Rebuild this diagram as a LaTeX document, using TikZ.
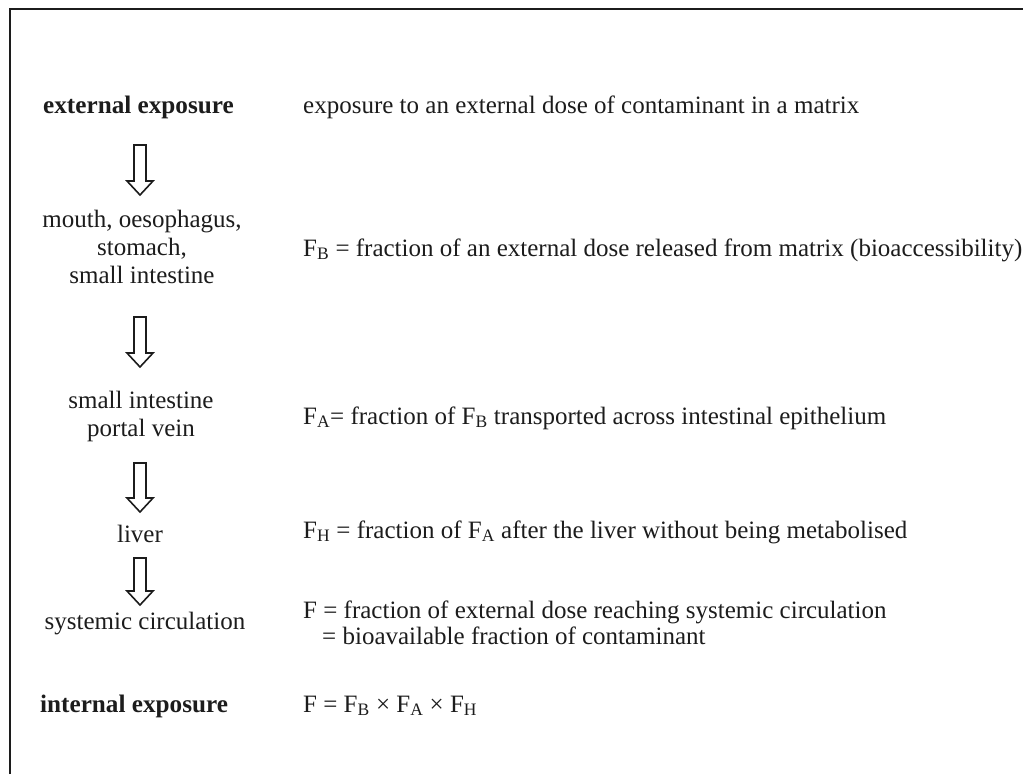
\documentclass[tikz,border=0pt]{standalone}
\usepackage{fontspec}
\setmainfont{Liberation Serif}
\usetikzlibrary{calc, positioning}
\definecolor{inkDark}{HTML}{1C1C1C}

\begin{document}
\begin{tikzpicture}[x=1pt, y=-1pt,
    stage/.style={inner sep=0pt, align=center, text=inkDark,
                  font=\fontsize{25}{28}\selectfont},
    keyterm/.style={inner sep=0pt, anchor=base west, text=inkDark,
                    font=\fontsize{25.2}{28}\selectfont\bfseries},
    note/.style={inner sep=0pt, anchor=base west, text=inkDark,
                 font=\fontsize{25}{28}\selectfont},
    fatarrow/.style={draw=inkDark, line width=1.6pt, line join=miter,
      to path={let \p1=(\tikztostart), \p2=(\tikztotarget) in
        (\x1-6pt,\y1) -- (\x1+6pt,\y1) -- (\x1+6pt,\y2+14pt) -- (\x1+13pt,\y2+14pt)
        -- (\x1,\y2) -- (\x1-13pt,\y2+14pt) -- (\x1-6pt,\y2+14pt) -- cycle}},
  ]
    \useasboundingbox (0,0) rectangle (1023,774);
    \draw[inkDark, line width=2.4pt] (10,774) -- (10,9) -- (1023,9);

    % left column: where the contaminant goes
    \node[keyterm] (extexp) at (43,113) {external exposure};
    \node[stage] (gut) at (142,247) {mouth, oesophagus,\\stomach,\\small intestine};
    \node[stage] (portal) at (141,416) {small intestine\\portal vein};
    \node[stage, anchor=base] (liver) at (140,542) {liver};
    \node[stage, anchor=base] (blood) at (145,629) {systemic circulation};
    \node[keyterm] (intexp) at (40,712) {internal exposure};

    % right column: fractions
    \node[note] (dose) at (303,113)
      {exposure to an external dose of contaminant in a matrix};
    \node[note] (fb) at (303,256)
      {F\textsubscript{B} = fraction of an external dose released from matrix (bioaccessibility)};
    \node[note] (fa) at (303,424)
      {F\textsubscript{A}= fraction of F\textsubscript{B} transported across intestinal epithelium};
    \node[note] (fh) at (303,538)
      {F\textsubscript{H} = fraction of F\textsubscript{A} after the liver without being metabolised};
    \node[note] (fsys) at (303,618)
      {F = fraction of external dose reaching systemic circulation};
    \node[note] (fbio) at (322,644)
      {= bioavailable fraction of contaminant};
    \node[note] (fprod) at (303,712)
      {F = F\textsubscript{B} × F\textsubscript{A} × F\textsubscript{H}};

    % hollow arrows between the stages
    \coordinate (a1s) at (140,145); \coordinate (a1e) at (140,195);
    \coordinate (a2s) at (140,317); \coordinate (a2e) at (140,367);
    \coordinate (a3s) at (140,463); \coordinate (a3e) at (140,512);
    \coordinate (a4s) at (140,558); \coordinate (a4e) at (140,605);
    \draw[fatarrow] (a1s) to (a1e);
    \draw[fatarrow] (a2s) to (a2e);
    \draw[fatarrow] (a3s) to (a3e);
    \draw[fatarrow] (a4s) to (a4e);
  \end{tikzpicture}
\end{document}
